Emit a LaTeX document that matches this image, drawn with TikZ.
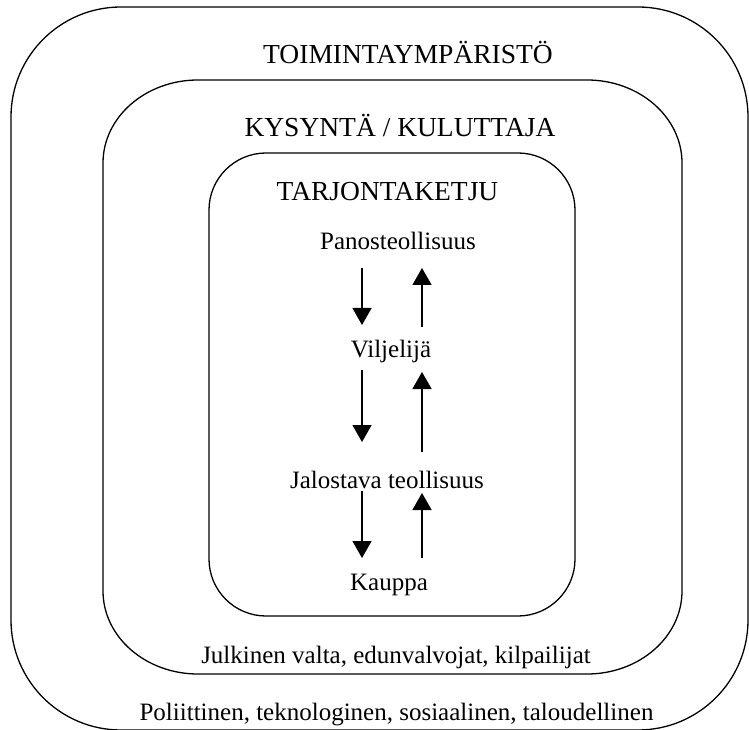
\documentclass[tikz,border=0pt]{standalone}
\usepackage{fontspec}
\setmainfont{Liberation Serif}
\usetikzlibrary{arrows.meta}
\tikzset{
  frame/.style={line width=1.3pt},
  title/.style={anchor=base, inner sep=0pt, font=\fontsize{27.5}{30}\selectfont},
  label/.style={anchor=base, inner sep=0pt, font=\fontsize{25}{28}\selectfont},
  flow/.style={line width=1.4pt, -{Triangle[length=17pt,width=19pt]}}
}
\begin{document}
\begin{tikzpicture}[x=1pt,y=1pt]
\useasboundingbox (0,0) rectangle (749,729);
% outer frame: operating environment
\draw[frame] (121,722) -- (638,722)
  arc[start angle=90,end angle=0,radius=110] -- (748,109)
  arc[start angle=0,end angle=-90,radius=110] -- (121,-1)
  arc[start angle=270,end angle=180,radius=110] -- (11,612)
  arc[start angle=180,end angle=90,radius=110] -- cycle;
% middle frame: demand / consumer
\draw[frame] (198,649) -- (587,649)
  arc[start angle=90,end angle=0,x radius=95,y radius=83] -- (682,138)
  arc[start angle=0,end angle=-90,x radius=95,y radius=83] -- (198,55)
  arc[start angle=270,end angle=180,x radius=95,y radius=83] -- (103,566)
  arc[start angle=180,end angle=90,x radius=95,y radius=83] -- cycle;
% inner frame: supply chain
\draw[frame] (266,576) -- (518,576)
  arc[start angle=90,end angle=0,radius=57] -- (575,170)
  arc[start angle=0,end angle=-90,radius=57] -- (266,113)
  arc[start angle=270,end angle=180,radius=57] -- (209,519)
  arc[start angle=180,end angle=90,radius=57] -- cycle;

\node[title] (env)  at (408,665) {TOIMINTAYMPÄRISTÖ};
\node[title] (dem)  at (400,592) {KYSYNTÄ / KULUTTAJA};
\node[title] (sup)  at (387.5,528) {TARJONTAKETJU};
\node[label] (pan)  at (398,479) {Panosteollisuus};
\node[label] (vil)  at (391,371) {Viljelijä};
\node[label] (jal)  at (387,241) {Jalostava teollisuus};
\node[label] (kau)  at (389,139) {Kauppa};
\node[label] (pub)  at (396,66) {Julkinen valta, edunvalvojat, kilpailijat};
\node[label] (pol)  at (396.5,9) {Poliittinen, teknologinen, sosiaalinen, taloudellinen};

% arrow end points
\coordinate (d1a) at (362,461); \coordinate (d1b) at (362,404);
\coordinate (d2a) at (362,359); \coordinate (d2b) at (362,287);
\coordinate (d3a) at (362,238); \coordinate (d3b) at (362,171);
\coordinate (u1a) at (422,402); \coordinate (u1b) at (422,461);
\coordinate (u2a) at (422,277); \coordinate (u2b) at (422,357);
\coordinate (u3a) at (422,171); \coordinate (u3b) at (422,236);

\draw[flow] (d1a) -- (d1b);
\draw[flow] (d2a) -- (d2b);
\draw[flow] (d3a) -- (d3b);
\draw[flow] (u1a) -- (u1b);
\draw[flow] (u2a) -- (u2b);
\draw[flow] (u3a) -- (u3b);
\end{tikzpicture}
\end{document}
